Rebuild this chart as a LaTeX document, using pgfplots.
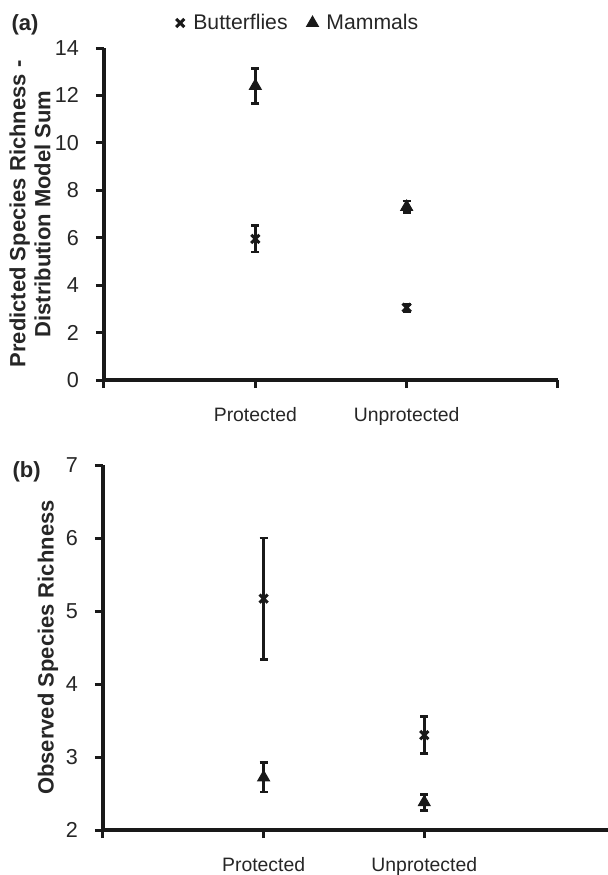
\documentclass[border=0pt]{standalone}
\usepackage{pgfplots}
\pgfplotsset{compat=1.18}
\usepackage{fontspec}
\setmainfont{Liberation Sans}
\begin{document}
\begin{tikzpicture}
\pgfplotsset{
  myaxis/.style={
    scale only axis,
    axis x line*=bottom, axis y line*=left,
    separate axis lines,
    every outer x axis line/.append style={line width=1.8pt, black!90},
    every outer y axis line/.append style={line width=1.8pt, black!90},
    axis line style={line width=1.8pt, black!90},
    every tick/.style={line width=1.5pt, black!90},
    major tick length=4pt, tick align=outside,
    xmin=0,
    /pgf/number format/assume math mode=true,
    xticklabel style={font=\fontsize{9.7}{11.6}\selectfont, text=black!85, yshift=-6pt},
    yticklabel style={font=\fontsize{10.8}{12.5}\selectfont, text=black!85, xshift=-5pt},
    ylabel style={font=\fontsize{11}{12.5}\selectfont\bfseries, text=black!85, align=center, anchor=center, rotate=0},
    clip=false,
  },
  butt/.style={only marks, mark=x, mark size=2.9pt, line width=1.5pt, draw=black!90, mark options={solid, draw=black!90},
    error bars/.cd, y dir=both, y explicit,
    error bar style={line width=1.4pt, black!90},
    error mark options={line width=1.4pt, mark size=2pt, rotate=90, black!90}},
  mamm/.style={only marks, mark=triangle*, mark size=3.4pt, line width=0.5pt, mark options={solid, draw=black!90, fill=black!90},
    error bars/.cd, y dir=both, y explicit,
    error bar style={line width=1.4pt, black!90},
    error mark options={line width=1.4pt, mark size=2pt, rotate=90, black!90}},
}
% ---------- (a) ----------
\begin{axis}[myaxis,
  at={(52pt,-190pt)}, anchor=south west,
  width=227pt, height=166pt,
  xmax=3, ymin=0, ymax=14, ytick={0,2,...,14},
  xtick={0,1,2,3},
  xticklabels={,Protected,Unprotected,},
  ylabel={Predicted Species Richness -\\Distribution Model Sum},
  ylabel style={at={(axis description cs:-0.163,0.5)}},
  legend columns=2,
  legend style={draw=none, fill=none, at={(rel axis cs:0.43,1)}, anchor=center, yshift=12.5pt,
    font=\fontsize{10.6}{12}\selectfont, text=black!85,
    /tikz/every even column/.append style={column sep=7.5pt},
    inner xsep=0pt},
  legend cell align=left,
]
\draw[line width=1.8pt, black!90] (rel axis cs:0,0) -- (rel axis cs:0,1);
\addplot[butt] coordinates {(1,5.95) +- (0,0.55) (2,3.05) +- (0,0.15)};
\addlegendentry{\hspace{2.5pt}Butterflies}
\addplot[mamm] coordinates {(1,12.4) +- (0,0.75) (2,7.3) +- (0,0.25)};
\addlegendentry{\hspace{2pt}Mammals}
\end{axis}
% ---------- (b) ----------
\begin{axis}[myaxis,
  at={(51.5pt,-415pt)}, anchor=south west,
  width=253pt, height=182.5pt,
  xmax=3.15, ymin=2, ymax=7, ytick={2,3,...,7},
  xtick={0,1,2},
  xticklabels={,Protected,Unprotected},
  ylabel={Observed Species Richness},
  ylabel style={at={(axis description cs:-0.109,0.5)}},
]
\draw[line width=1.8pt, black!90] (rel axis cs:0,0) -- (rel axis cs:0,1);
\addplot[butt] coordinates {(1,5.17) +- (0,0.83) (2,3.3) +- (0,0.25)};
\addplot[mamm] coordinates {(1,2.72) +- (0,0.2) (2,2.38) +- (0,0.11)};
\end{axis}
\node[font=\fontsize{11}{12.5}\selectfont\bfseries, text=black!85] at (12.5pt,-12.5pt) {(a)};
\node[font=\fontsize{11}{12.5}\selectfont\bfseries, text=black!85] at (13.3pt,-236pt) {(b)};
\pgfresetboundingbox
\path[use as bounding box] (0,0) rectangle (304pt,-437.5pt);
\end{tikzpicture}
\end{document}
